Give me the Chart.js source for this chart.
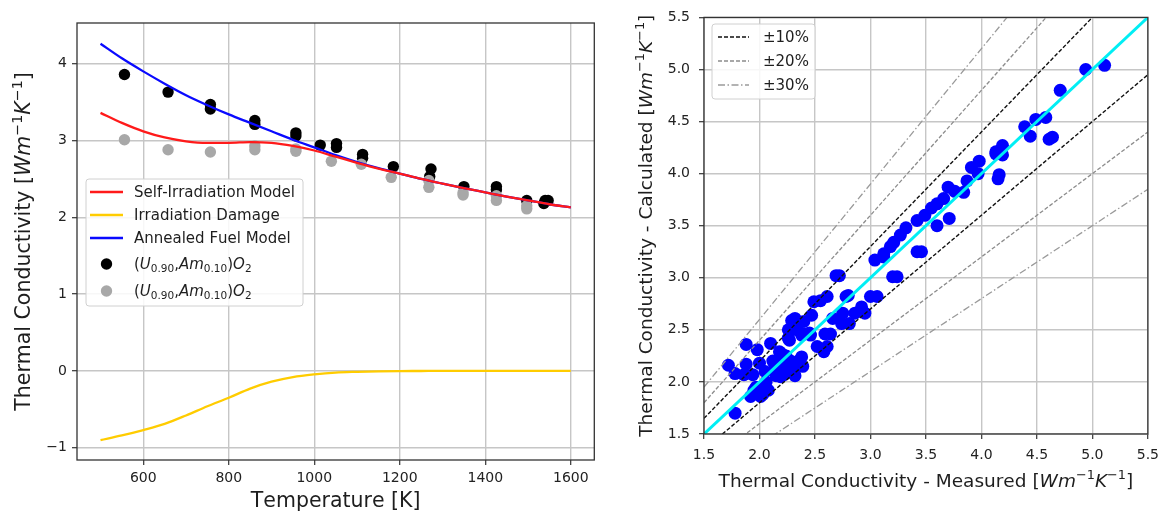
<!DOCTYPE html>
<html><head><meta charset="utf-8">
<script src="https://cdn.jsdelivr.net/npm/chart.js@4.4.1/dist/chart.umd.min.js"></script>
<style>
html,body{margin:0;padding:0;background:#fff;}
#wrap{position:relative;width:1167px;height:516px;overflow:hidden;background:#fff;}
canvas{position:absolute;top:0;}
#c1{left:0;width:600px;height:516px;}
#c2{left:600px;width:567px;height:516px;}
</style></head><body>
<div id="wrap"><canvas id="c1" width="600" height="516"></canvas><canvas id="c2" width="567" height="516"></canvas></div>
<script>
// ---------- Left chart data ----------
const temps = [500,550,600,650,700,750,800,850,900,950,1000,1050,1100,1150,1200,1250,1300,1350,1400,1450,1500,1550,1600];
const selfIrradiation = [3.36,3.23,3.12,3.04,2.99,2.97,2.97,2.98,2.97,2.93,2.87,2.79,2.71,2.635,2.57,2.50,2.44,2.38,2.325,2.27,2.22,2.17,2.13];
const irradiationDamage = [-0.90,-0.84,-0.77,-0.69,-0.58,-0.46,-0.35,-0.23,-0.14,-0.08,-0.045,-0.022,-0.012,-0.005,-0.002,-0.001,0,0,0,0,0,0,0];
const annealedFuel = [4.26,4.07,3.90,3.74,3.59,3.46,3.34,3.23,3.12,3.01,2.91,2.81,2.72,2.64,2.57,2.50,2.44,2.38,2.325,2.27,2.22,2.17,2.13];
const blackT = [556,658,757,757,861,861,957,957,1014,1052,1052,1113,1113,1185,1273,1270,1350,1426,1426,1497,1537,1540,1547];
const blackK = [3.86,3.63,3.47,3.41,3.26,3.21,3.10,3.06,2.94,2.96,2.91,2.82,2.77,2.66,2.63,2.53,2.40,2.40,2.36,2.22,2.18,2.22,2.22];
const grayT = [556,658,757,861,861,957,957,1040,1110,1180,1268,1268,1348,1348,1426,1426,1497,1497];
const grayK = [3.01,2.88,2.85,2.93,2.88,2.89,2.86,2.73,2.69,2.52,2.48,2.39,2.32,2.29,2.28,2.22,2.15,2.11];
const leftXTicks = [600,800,1000,1200,1400,1600];
const leftYTicks = [-1,0,1,2,3,4];

// ---------- Right chart data ----------
const measured = [
1.72,1.78,1.86,1.88,1.88,1.98,2.00,1.94,1.92,2.01,2.04,1.97,2.03,2.08,1.78,
2.10,2.18,2.20,2.26,2.18,2.13,2.22,2.26,2.32,2.38,2.39,2.17,2.23,2.19,2.28,2.25,2.15,
2.29,2.32,2.40,2.47,2.49,2.55,2.61,2.69,2.72,
2.38,2.46,2.59,2.64,2.52,2.61,2.58,2.26,2.40,
2.66,2.75,2.78,2.74,2.81,2.86,2.92,2.95,3.00,3.06,2.80,
3.04,3.12,3.20,3.24,3.42,3.46,3.18,3.21,3.27,3.32,3.42,3.49,3.55,3.60,3.66,3.60,3.71,3.70,3.76,3.84,3.87,3.91,3.97,3.98,4.13,4.15,4.19,4.13,4.19,4.16,3.12,
4.39,4.44,4.49,4.58,4.61,4.64,4.71,4.94,5.11,
2.05,2.12,2.20,2.30,2.35,2.24,2.00,1.95,2.06,2.27,2.34,2.45];
const calculated = [
2.16,2.08,2.07,2.36,2.17,2.31,2.18,2.07,1.86,1.86,1.94,1.95,1.88,1.92,1.70,
2.37,2.29,2.27,2.42,2.21,2.11,2.07,2.18,2.06,2.24,2.15,2.16,2.12,2.05,2.20,2.10,2.06,
2.59,2.61,2.58,2.64,2.77,2.78,2.82,3.02,3.02,
2.45,2.45,2.46,2.46,2.34,2.34,2.29,2.50,2.46,
2.61,2.66,2.82,2.56,2.56,2.66,2.72,2.66,2.82,2.82,2.83,
3.17,3.20,3.01,3.01,3.25,3.25,3.30,3.34,3.41,3.48,3.55,3.60,3.67,3.71,3.76,3.50,3.57,3.87,3.83,3.82,3.93,4.06,4.00,4.12,4.19,3.95,4.27,4.21,4.18,3.99,3.23,
4.45,4.36,4.52,4.54,4.33,4.35,4.80,5.00,5.04,
2.10,2.20,2.12,2.15,2.20,2.25,1.90,1.92,2.00,2.40,2.50,2.47];
const refX = [1.5, 5.5];
const parityY = [1.5, 5.5];
const plus10Y = [1.65, 6.05], minus10Y = [1.35, 4.95];
const plus20Y = [1.80, 6.60], minus20Y = [1.20, 4.40];
const plus30Y = [1.95, 7.15], minus30Y = [1.05, 3.85];
const rightTicks = [1.5,2.0,2.5,3.0,3.5,4.0,4.5,5.0,5.5];

// ---------- helpers ----------
const FAM = "'DejaVu Sans', 'Liberation Sans', sans-serif";
const GRID = '#c6c6c6';
const SUP = {'⁻':'−','¹':'1','⁰':'0','²':'2','³':'3'};
const SUB = {'₀':'0','₁':'1','₂':'2','₃':'3','₄':'4','₅':'5','₆':'6','₇':'7','₈':'8','₉':'9'};
function tokenize(text, mode){
  const chars = Array.from(text); const toks = []; let inBr = false;
  for (let i=0;i<chars.length;i++){
    const c = chars[i]; let kind='n', t=c;
    if (SUP[c]) {kind='sup'; t=SUP[c];}
    else if (SUB[c]) {kind='sub'; t=SUB[c];}
    else if (c==='.' && SUB[chars[i-1]] && SUB[chars[i+1]]) kind='sub';
    if (c==='[') inBr=true;
    let italic=false;
    if (kind==='n' && /[A-Za-z]/.test(c)) italic = mode==='all' || (mode==='brackets' && inBr);
    if (c===']') inBr=false;
    toks.push({t,kind,italic});
  }
  return toks;
}
function drawRich(ctx, text, x, y, size, align, mode){
  const toks = tokenize(text, mode);
  const f = tk => (tk.italic?'italic ':'') + (tk.kind==='n'? size : (size*0.7).toFixed(1)) + 'px ' + FAM;
  let w=0; toks.forEach(tk=>{ctx.font=f(tk); tk.w=ctx.measureText(tk.t).width; w+=tk.w;});
  let cx = align==='center' ? x-w/2 : x;
  ctx.textBaseline='alphabetic'; ctx.textAlign='left';
  const base = y + size*0.36;
  toks.forEach(tk=>{
    ctx.font=f(tk);
    const dy = tk.kind==='sup' ? -size*0.42 : tk.kind==='sub' ? size*0.2 : 0;
    ctx.fillText(tk.t, cx, base+dy); cx+=tk.w;
  });
}
function rrect(ctx,x,y,w,h,r){
  ctx.beginPath(); ctx.moveTo(x+r,y); ctx.lineTo(x+w-r,y); ctx.quadraticCurveTo(x+w,y,x+w,y+r);
  ctx.lineTo(x+w,y+h-r); ctx.quadraticCurveTo(x+w,y+h,x+w-r,y+h); ctx.lineTo(x+r,y+h);
  ctx.quadraticCurveTo(x,y+h,x,y+h-r); ctx.lineTo(x,y+r); ctx.quadraticCurveTo(x,y,x+r,y); ctx.closePath();
}
const decor = {
  id:'decor',
  afterDraw(chart, args, o){
    const {ctx, chartArea:a} = chart;
    ctx.save();
    ctx.strokeStyle='#333'; ctx.lineWidth=1.3; ctx.setLineDash([]);
    ctx.strokeRect(a.left, a.top, a.right-a.left, a.bottom-a.top);
    ctx.fillStyle='#1e1e1e';
    if (o.xTitle) drawRich(ctx, o.xTitle.text, (a.left+a.right)/2, o.xTitle.y, o.xTitle.size, 'center', o.xTitle.mode);
    if (o.yTitle){ ctx.save(); ctx.translate(o.yTitle.x,(a.top+a.bottom)/2); ctx.rotate(-Math.PI/2);
      drawRich(ctx, o.yTitle.text, 0, 0, o.yTitle.size, 'center', o.yTitle.mode); ctx.restore(); }
    const L = o.legend;
    if (L){
      rrect(ctx, L.x, L.y, L.w, L.h, 3);
      ctx.fillStyle='rgba(255,255,255,0.85)'; ctx.fill();
      ctx.strokeStyle='#d0d0d0'; ctx.lineWidth=1; ctx.stroke();
      const ents = chart.data.datasets.filter(d=>d.inLegend);
      ents.forEach((d,i)=>{
        const yy = L.y + L.rows[i];
        if (d.type==='scatter'){
          ctx.fillStyle=d.backgroundColor; ctx.beginPath();
          ctx.arc((L.s0+L.s1)/2, yy, d.pointRadius, 0, Math.PI*2); ctx.fill();
        } else {
          ctx.strokeStyle=d.borderColor; ctx.lineWidth=d.borderWidth; ctx.setLineDash(d.borderDash||[]);
          ctx.beginPath(); ctx.moveTo(L.s0,yy); ctx.lineTo(L.s1,yy); ctx.stroke(); ctx.setLineDash([]);
        }
        ctx.fillStyle='#1e1e1e';
        drawRich(ctx, d.label, L.tx, yy, L.size, 'left', d.legendMode||'none');
      });
    }
    ctx.restore();
  }
};
function pts(xs, ys){ return xs.map((x,i)=>({x, y:ys[i]})); }
function axis(min, max, tickVals, fit, fmt, pad){
  return {
    type:'linear', min, max,
    afterBuildTicks: s=>{ s.ticks = tickVals.map(v=>({value:v})); },
    afterFit: fit,
    grid:{color:GRID, lineWidth:1.4, tickColor:'#333', tickLength:5, tickWidth:1.2},
    border:{display:false},
    ticks:{font:{family:FAM, size:14}, color:'#222', padding:pad, autoSkip:false, maxRotation:0, callback:fmt}
  };
}

// ---------- Left chart ----------
new Chart(document.getElementById('c1'), {
  data:{ datasets:[
    {type:'line', label:'Self-Irradiation Model', data:pts(temps, selfIrradiation), borderColor:'#ff1a1a', borderWidth:2.3, pointRadius:0, cubicInterpolationMode:'monotone', order:1, inLegend:true},
    {type:'line', label:'Irradiation Damage', data:pts(temps, irradiationDamage), borderColor:'#ffcc00', borderWidth:2.3, pointRadius:0, cubicInterpolationMode:'monotone', order:2, inLegend:true},
    {type:'line', label:'Annealed Fuel Model', data:pts(temps, annealedFuel), borderColor:'#0a0aff', borderWidth:2.3, pointRadius:0, cubicInterpolationMode:'monotone', order:1, inLegend:true},
    {type:'scatter', label:'(U₀.₉₀,Am₀.₁₀)O₂', data:pts(blackT, blackK), backgroundColor:'#000000', borderWidth:0, pointRadius:5.7, order:6, inLegend:true, legendMode:'all'},
    {type:'scatter', label:'(U₀.₉₀,Am₀.₁₀)O₂', data:pts(grayT, grayK), backgroundColor:'#a8a8a8', borderWidth:0, pointRadius:5.7, order:5, inLegend:true, legendMode:'all'}
  ]},
  options:{
    responsive:false, animation:false, devicePixelRatio:1,
    layout:{padding:{left:0,right:5,top:23,bottom:0}},
    plugins:{legend:{display:false}, tooltip:{enabled:false},
      decor:{
        xTitle:{text:'Temperature [K]', y:500, size:20.5, mode:'none'},
        yTitle:{text:'Thermal Conductivity [Wm⁻¹K⁻¹]', x:23, size:20.5, mode:'brackets'},
        legend:{x:86, y:179, w:217, h:127, rows:[13,36,59,85,112], s0:90, s1:123, tx:134, size:15}
      }},
    scales:{
      x: axis(445, 1655, leftXTicks, s=>{s.height=56;}, v=>String(v), 5),
      y: axis(-1.16, 4.53, leftYTicks, s=>{s.width=77;}, v=> v<0 ? '−'+Math.abs(v) : String(v), 5)
    }
  },
  plugins:[decor]
});

// ---------- Right chart ----------
new Chart(document.getElementById('c2'), {
  data:{ datasets:[
    {type:'line', label:'parity', data:pts(refX, parityY), borderColor:'#00eef4', borderWidth:3, pointRadius:0, order:0},
    {type:'line', label:'±10%', data:pts(refX, plus10Y), borderColor:'#111111', borderWidth:1.4, borderDash:[4,2], pointRadius:0, order:1, inLegend:true},
    {type:'line', label:'±20%', data:pts(refX, plus20Y), borderColor:'#8c8c8c', borderWidth:1.3, borderDash:[4,2], pointRadius:0, order:2, inLegend:true},
    {type:'line', label:'±30%', data:pts(refX, plus30Y), borderColor:'#9a9a9a', borderWidth:1.3, borderDash:[7,2.5,1.5,2.5], pointRadius:0, order:3, inLegend:true},
    {type:'line', label:'-10%', data:pts(refX, minus10Y), borderColor:'#111111', borderWidth:1.4, borderDash:[4,2], pointRadius:0, order:1},
    {type:'line', label:'-20%', data:pts(refX, minus20Y), borderColor:'#8c8c8c', borderWidth:1.3, borderDash:[4,2], pointRadius:0, order:2},
    {type:'line', label:'-30%', data:pts(refX, minus30Y), borderColor:'#9a9a9a', borderWidth:1.3, borderDash:[7,2.5,1.5,2.5], pointRadius:0, order:3},
    {type:'scatter', label:'data', data:pts(measured, calculated), backgroundColor:'#0000ff', borderWidth:0, pointRadius:6.5, order:10}
  ]},
  options:{
    responsive:false, animation:false, devicePixelRatio:1,
    layout:{padding:{left:0,right:13,top:16,bottom:0}},
    plugins:{legend:{display:false}, tooltip:{enabled:false},
      decor:{
        xTitle:{text:'Thermal Conductivity - Measured [Wm⁻¹K⁻¹]', y:480, size:18.5, mode:'brackets'},
        yTitle:{text:'Thermal Conductivity - Calculated [Wm⁻¹K⁻¹]', x:45, size:18.5, mode:'brackets'},
        legend:{x:112, y:24, w:103, h:75, rows:[13,37,61], s0:118, s1:149, tx:163, size:15}
      }},
    scales:{
      x: axis(1.5, 5.5, rightTicks, s=>{s.height=82;}, v=>v.toFixed(1), 8),
      y: axis(1.5, 5.5, rightTicks, s=>{s.width=104;}, v=>v.toFixed(1), 9)
    }
  },
  plugins:[decor]
});
</script>
</body></html>
